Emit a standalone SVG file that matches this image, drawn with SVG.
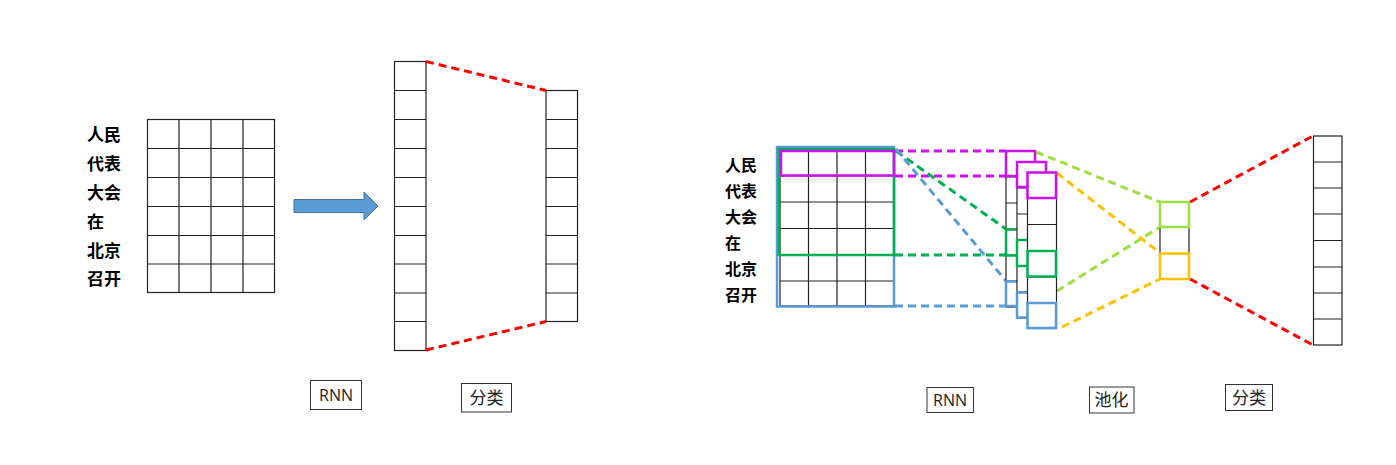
<svg xmlns="http://www.w3.org/2000/svg" width="1396" height="465" viewBox="0 0 1396 465">
<style>
.g{fill:none;stroke:#222;stroke-width:1.2}
.cell{fill:#fff;stroke:#222;stroke-width:1.2}
.w{font-family:"Noto Sans CJK SC","Noto Sans",sans-serif;font-size:17px;font-weight:bold;fill:#000}
.w2{font-size:16px}
.lb{font-family:"Noto Sans CJK SC","Open Sans",sans-serif;font-size:17px;fill:#222}
.en{font-family:"Open Sans",sans-serif;font-size:16px}
.box{fill:#fff;stroke:#333;stroke-width:1}
.d{fill:none;stroke-width:3;stroke-dasharray:8,5}
.pu{stroke:#CC11EE}.gr{stroke:#00B050}.bl{stroke:#5B9BD5}.lg{stroke:#99E040}.ye{stroke:#FFC000}.rd{stroke:#FF0000}
.r{fill:none;stroke-width:2.5}
</style>
<g id="left-words">
<text class="w" x="87" y="141">人民</text>
<text class="w" x="87" y="170">代表</text>
<text class="w" x="87" y="199">大会</text>
<text class="w" x="87" y="228">在</text>
<text class="w" x="87" y="257">北京</text>
<text class="w" x="87" y="285">召开</text>
</g>
<g id="left-grid">
<rect class="g" x="147.5" y="119.5" width="127" height="173"/>
<path class="g" d="M179,119.5V292.5M211,119.5V292.5M243,119.5V292.5M147.5,148.5H274.5M147.5,177.5H274.5M147.5,206.5H274.5M147.5,235.5H274.5M147.5,264H274.5"/>
</g>
<g id="arrow">
<path d="M294,199.5H364V192L378,206L364,220V212.5H294Z" fill="#5B9BD5" stroke="#41719C" stroke-width="1"/>
</g>
<g id="left-rnn-col">
<rect class="g" x="394.5" y="61.5" width="31.5" height="289"/>
<path class="g" d="M394.5,90.5H426M394.5,119.5H426M394.5,148.5H426M394.5,177.5H426M394.5,206.5H426M394.5,235.5H426M394.5,264H426M394.5,293H426M394.5,321.5H426"/>
</g>
<g id="left-class-col">
<rect class="g" x="546" y="90.5" width="31.5" height="231"/>
<path class="g" d="M546,119.5H577.5M546,148.5H577.5M546,177.5H577.5M546,206.5H577.5M546,235.5H577.5M546,264H577.5M546,293H577.5"/>
</g>
<g id="left-labels">
<rect class="box" x="310.5" y="380.5" width="51" height="29"/>
<text class="lb en" x="336" y="401" text-anchor="middle">RNN</text>
<rect class="box" x="461.5" y="383.5" width="50" height="28.5"/>
<text class="lb" x="486.5" y="404" text-anchor="middle">分类</text>
</g>
<g id="right-words">
<text class="w w2" x="725" y="170.5">人民</text>
<text class="w w2" x="725" y="196.5">代表</text>
<text class="w w2" x="725" y="222.5">大会</text>
<text class="w w2" x="725" y="248.5">在</text>
<text class="w w2" x="725" y="274.5">北京</text>
<text class="w w2" x="725" y="300.5">召开</text>
</g>
<g id="right-grid">
<rect class="g" x="780" y="150" width="114" height="156"/>
<path class="g" d="M808.5,150V306M837,150V306M865.5,150V306M780,176H894M780,202H894M780,228.5H894M780,255H894M780,281H894"/>
<rect class="r bl" x="777" y="147" width="117" height="159.5"/>
<rect class="r gr" x="779" y="149" width="115" height="106"/>
<rect class="r pu" x="781" y="151" width="113" height="24.5"/>
</g>
<g id="connectors">
<path class="d pu" d="M895,151H1006M895,176H1006"/>
<path class="d gr" d="M896,151L1006,229M895,255H1006"/>
<path class="d bl" d="M896,149L1006,281M895,306H1006"/>
<path class="d lg" d="M1036,152L1160,202M1057,291L1160,227"/>
<path class="d ye" d="M1057,173L1160,253M1062,327L1160,279"/>
<path class="d rd" d="M426,61.5L546,90.5M426,350L546,321.5"/>
<path class="d rd" d="M1190,202L1313,136M1190,279L1313,345"/>
</g>
<g id="rnn-col-1">
<rect class="cell" x="1006" y="151" width="29" height="156"/>
<path class="g" d="M1006,177H1035M1006,203H1035M1006,229H1035M1006,255H1035M1006,281H1035"/>
<rect class="r pu" x="1006" y="151" width="29" height="25"/>
<rect class="r gr" x="1006" y="229.5" width="29" height="26"/>
<rect class="r bl" x="1006" y="281.5" width="29" height="24.5"/>
</g>
<g id="rnn-col-2">
<rect class="cell" x="1017" y="162" width="29" height="156"/>
<path class="g" d="M1017,188H1046M1017,214H1046M1017,240H1046M1017,266H1046M1017,292H1046"/>
<rect class="r pu" x="1017" y="162" width="29" height="25"/>
<rect class="r gr" x="1017" y="240" width="29" height="26"/>
<rect class="r bl" x="1017" y="292.5" width="29" height="25"/>
</g>
<g id="rnn-col-3">
<rect class="cell" x="1027.5" y="172.5" width="29" height="156"/>
<path class="g" d="M1027.5,198H1056.5M1027.5,224.5H1056.5M1027.5,251H1056.5M1027.5,277H1056.5M1027.5,303H1056.5"/>
<rect class="r pu" x="1027.5" y="172.5" width="28.5" height="25.5"/>
<rect class="r gr" x="1027.5" y="251" width="28.5" height="25.5"/>
<rect class="r bl" x="1027.5" y="303" width="28.5" height="25"/>
</g>
<g id="pool-col">
<rect class="cell" x="1160" y="202" width="29" height="77"/>
<rect class="r lg" x="1160" y="202" width="29" height="25"/>
<rect class="r ye" x="1160" y="253.5" width="29" height="25.5"/>
</g>
<g id="class-col">
<rect class="g" x="1313.5" y="136" width="28.5" height="209"/>
<path class="g" d="M1313.5,162H1342M1313.5,188H1342M1313.5,214H1342M1313.5,240.5H1342M1313.5,267H1342M1313.5,293H1342M1313.5,319H1342"/>
</g>
<g id="right-labels">
<rect class="box" x="927" y="387.5" width="46.5" height="25"/>
<text class="lb en" x="950" y="405.5" text-anchor="middle">RNN</text>
<rect class="box" x="1089.5" y="387" width="44.5" height="26"/>
<text class="lb" x="1111.5" y="406" text-anchor="middle">池化</text>
<rect class="box" x="1225.5" y="384.5" width="47" height="26"/>
<text class="lb" x="1249" y="403.5" text-anchor="middle">分类</text>
</g>
</svg>
